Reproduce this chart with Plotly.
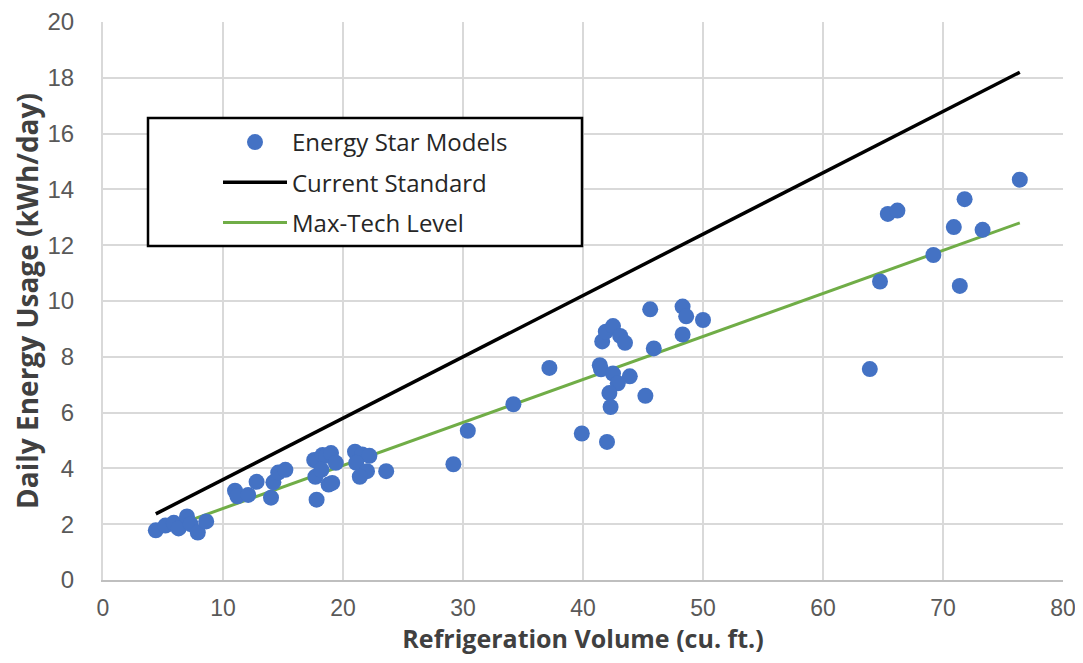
import plotly.graph_objects as go

# Energy Star models: refrigeration volume (cu. ft.) and daily energy usage (kWh/day)
volume = [4.4, 5.2, 5.9, 6.3, 7.0, 7.3, 7.9, 8.6,
          11.0, 11.2, 12.1, 12.8, 14.0, 14.2, 14.6, 15.2,
          17.6, 17.7, 17.8, 17.9, 18.3, 18.6, 19.0, 18.2, 18.8, 19.1, 19.4,
          21.0, 21.6, 22.2, 21.1, 22.0, 21.4, 23.6,
          29.2, 30.4, 34.2, 37.2, 39.9, 42.0,
          41.4, 41.5, 41.6, 41.9, 42.5, 43.1, 43.5, 42.5, 43.9, 42.9, 42.2, 42.3,
          45.2, 45.6, 45.9, 48.3, 48.6, 50.0, 48.3,
          63.9, 64.75, 65.4, 66.2, 69.2, 70.9, 71.4, 71.8, 73.3, 76.4]
energy = [1.78, 1.95, 2.05, 1.85, 2.28, 2.0, 1.7, 2.1,
          3.2, 3.0, 3.05, 3.52, 2.95, 3.5, 3.85, 3.95,
          4.3, 3.7, 2.88, 4.24, 4.48, 4.45, 4.55, 3.95, 3.42, 3.48, 4.2,
          4.6, 4.5, 4.45, 4.2, 3.9, 3.7, 3.9,
          4.15, 5.35, 6.3, 7.6, 5.25, 4.95,
          7.7, 7.55, 8.55, 8.9, 9.1, 8.75, 8.5, 7.4, 7.3, 7.05, 6.7, 6.2,
          6.6, 9.7, 8.3, 9.8, 9.45, 9.32, 8.8,
          7.56, 10.7, 13.12, 13.24, 11.65, 12.65, 10.54, 13.65, 12.55, 14.35]

# Standard lines (endpoints)
line_x = [4.4, 76.4]
current_std = [2.37, 18.2]
max_tech = [1.7, 12.8]

x_ticks = [0, 10, 20, 30, 40, 50, 60, 70, 80]
y_ticks = [0, 2, 4, 6, 8, 10, 12, 14, 16, 18, 20]

FONT = "Open Sans, Noto Sans, sans-serif"
TICK_FONT = "Liberation Sans, Arial, sans-serif"

fig = go.Figure()
fig.add_trace(go.Scatter(
    x=line_x, y=max_tech, mode="lines", name="Max-Tech Level",
    line=dict(color="#70AD47", width=3), legendgroup="c", legendrank=3))
fig.add_trace(go.Scatter(
    x=line_x, y=current_std, mode="lines", name="Current Standard",
    line=dict(color="#000000", width=3.5), legendgroup="b", legendrank=2))
fig.add_trace(go.Scatter(
    x=volume, y=energy, mode="markers", name="Energy Star Models",
    marker=dict(color="#4472C4", size=16, line=dict(width=0)),
    legendgroup="a", legendrank=1))

# page has an 8px body margin; figure sized to fit inside the window
OFF = 8
W, H = 1067, 647
L, T = 103 - OFF, 22 - OFF
R = W - (1063 - OFF)
B = H - (580 - OFF)
pw, ph = W - L - R, H - T - B

def px_to_paper(px, py):
    return (px - OFF - L) / pw, (H - B - (py - OFF)) / ph

x0, y1 = px_to_paper(148, 118)
x1, y0 = px_to_paper(582, 246)
fig.add_shape(type="rect", xref="paper", yref="paper", x0=x0, x1=x1, y0=y0, y1=y1,
              line=dict(color="#000000", width=2.5), fillcolor="white", layer="above")

lx, ly = px_to_paper(218, 120)
fig.update_layout(
    width=W, height=H,
    margin=dict(l=L, r=R, t=T, b=B, autoexpand=False),
    plot_bgcolor="white", paper_bgcolor="white",
    font=dict(family=FONT, size=22, color="#595959"),
    showlegend=True,
    legend=dict(x=lx, y=ly, xanchor="left", yanchor="top",
                bgcolor="rgba(0,0,0,0)", borderwidth=0,
                traceorder="grouped", tracegroupgap=6, itemwidth=64,
                font=dict(family=FONT, size=24, color="#262626")),
    xaxis=dict(range=[0, 80], tickvals=x_ticks, showgrid=True,
               gridcolor="#D9D9D9", gridwidth=2, zeroline=False,
               showline=True, linecolor="#BFBFBF", linewidth=2,
               ticks="", ticklabelstandoff=6, ticklabeloverflow="allow",
               automargin=False,
               tickfont=dict(family=TICK_FONT, size=23, color="#595959"),
               title=dict(text="<b>Refrigeration Volume (cu. ft.)</b>", standoff=8,
                          font=dict(family=FONT, size=25, color="#404040"))),
    yaxis=dict(range=[0, 20], tickvals=y_ticks, showgrid=True,
               gridcolor="#D9D9D9", gridwidth=2, zeroline=False,
               showline=True, linecolor="#D9D9D9", linewidth=2,
               ticks="", ticklabelstandoff=22, ticklabeloverflow="allow",
               automargin=False,
               tickfont=dict(family=TICK_FONT, size=24, color="#595959"),
               title=dict(text="<b>Daily Energy Usage (kWh/day)</b>", standoff=6,
                          font=dict(family=FONT, size=28, color="#404040"))),
)

fig.write_html("out.html")
